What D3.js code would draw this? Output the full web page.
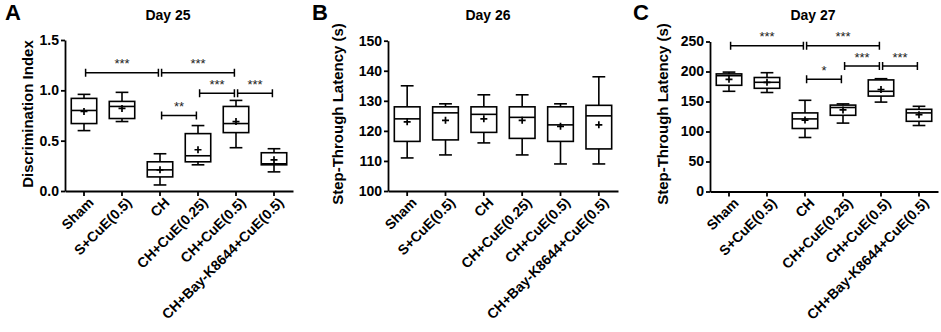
<!DOCTYPE html>
<html>
<head>
<meta charset="utf-8">
<script src="https://cdn.jsdelivr.net/npm/d3@7"></script>
<style>
  body { margin: 0; background: #fff; }
  svg { display: block; font-family: Arial, "Liberation Sans", sans-serif; }
</style>
</head>
<body>
<div id="chart"></div>
<script>
// ━━━━━━━━━━━━━━━━━━━━━━━━━━━━━━━━━━━━━━━━━━━━━━━━━━━━━━━━━━━━━━━━━━━━━━━━━━━━━━
// Data /////////////////////////////////////////////////////////////////////////
// ━━━━━━━━━━━━━━━━━━━━━━━━━━━━━━━━━━━━━━━━━━━━━━━━━━━━━━━━━━━━━━━━━━━━━━━━━━━━━━

const categories = ['Sham', 'S+CuE(0.5)', 'CH', 'CH+CuE(0.25)', 'CH+CuE(0.5)', 'CH+Bay-K8644+CuE(0.5)'];

// Day 25 - discrimination index
const d25_min    = [0.60, 0.69, 0.06, 0.26, 0.43, 0.19];
const d25_q1     = [0.67, 0.72, 0.14, 0.29, 0.58, 0.26];
const d25_median = [0.80, 0.84, 0.21, 0.35, 0.67, 0.27];
const d25_q3     = [0.92, 0.89, 0.29, 0.57, 0.84, 0.38];
const d25_max    = [0.96, 0.98, 0.37, 0.65, 0.90, 0.42];
const d25_mean   = [0.79, 0.82, 0.21, 0.41, 0.69, 0.31];
const d25_ticks  = [0.0, 0.5, 1.0, 1.5];
// [from, to, level, label]
const d25_sig = [[0, 2, 1.175, '***'], [2, 4, 1.175, '***'], [3, 4, 0.97, '***'], [4, 5, 0.97, '***'], [2, 3, 0.75, '**']];

// Day 26 - step-through latency
const d26_min    = [111, 112, 116, 112, 109, 109];
const d26_q1     = [116.5, 117, 119.5, 117.5, 116.5, 114];
const d26_median = [124, 126, 125.5, 124.5, 122, 125];
const d26_q3     = [128, 128, 128, 128, 128, 128.5];
const d26_max    = [135, 129, 132, 132, 129, 138];
const d26_mean   = [123, 123.5, 124, 123.5, 121.5, 122];
const d26_ticks  = [100, 110, 120, 130, 140, 150];
const d26_sig = [];

// Day 27 - step-through latency
const d27_min    = [167, 165, 90, 114, 149, 110];
const d27_q1     = [177, 172, 105, 127, 159, 117];
const d27_median = [193, 182, 121, 140, 167, 131];
const d27_q3     = [196, 190, 131, 144, 186, 137];
const d27_max    = [199, 198, 152, 146, 188, 142];
const d27_mean   = [187, 182, 119, 136, 170, 128];
const d27_ticks  = [0, 50, 100, 150, 200, 250];
const d27_sig = [[0, 2, 243, '***'], [2, 4, 243, '***'], [3, 4, 209, '***'], [4, 5, 209, '***'], [2, 3, 187, '*']];

// ━━━━━━━━━━━━━━━━━━━━━━━━━━━━━━━━━━━━━━━━━━━━━━━━━━━━━━━━━━━━━━━━━━━━━━━━━━━━━━
// SVG setup ////////////////////////////////////////////////////////////////////
// ━━━━━━━━━━━━━━━━━━━━━━━━━━━━━━━━━━━━━━━━━━━━━━━━━━━━━━━━━━━━━━━━━━━━━━━━━━━━━━

const width = 941, height = 332;

const svg = d3.select('#chart').append('svg')
  .attr('viewBox', [0, 0, width, height])
  .attr('width', width)
  .attr('height', height);

svg.append('rect').attr('width', width).attr('height', height).attr('fill', '#fff');

const zip = (a, b, c, d, e, f) => a.map((v, i) => ({ cat: categories[i], min: v, q1: b[i], median: c[i], q3: d[i], max: e[i], mean: f[i] }));

const panels = [
  { letter: 'A', title: 'Day 25', ylabel: 'Discrimination Index',
    rows: zip(d25_min, d25_q1, d25_median, d25_q3, d25_max, d25_mean), ticks: d25_ticks, fmt: d3.format('.1f'), sig: d25_sig,
    x0: 65, x1: 293, y0: 191, y1: 40, letterX: 5, titleX: 168, ylabelX: 28 },
  { letter: 'B', title: 'Day 26', ylabel: 'Step-Through Latency (s)',
    rows: zip(d26_min, d26_q1, d26_median, d26_q3, d26_max, d26_mean), ticks: d26_ticks, fmt: d3.format('d'), sig: d26_sig,
    x0: 388, x1: 618, y0: 191, y1: 40.7, letterX: 312, titleX: 488, ylabelX: 338 },
  { letter: 'C', title: 'Day 27', ylabel: 'Step-Through Latency (s)',
    rows: zip(d27_min, d27_q1, d27_median, d27_q3, d27_max, d27_mean), ticks: d27_ticks, fmt: d3.format('d'), sig: d27_sig,
    x0: 710, x1: 938, y0: 191.5, y1: 41.5, letterX: 633, titleX: 813, ylabelX: 663 }
];

panels.forEach(p => {
  const g = svg.append('g').attr('id', 'panel-' + p.letter);

  const x = d3.scaleBand().domain(categories).range([p.x0, p.x1]).padding(0);
  const y = d3.scaleLinear().domain([p.ticks[0], p.ticks[p.ticks.length - 1]]).range([p.y0, p.y1]);
  const bw = x.bandwidth() * 0.67;
  const cw = bw * 0.5;

  // Letter + title //////////////////////////////////////////////////////////
  g.append('text').attr('x', p.letterX).attr('y', 20)
    .attr('font-size', 22).attr('font-weight', 'bold').text(p.letter);
  g.append('text').attr('x', p.titleX).attr('y', 20).attr('text-anchor', 'middle')
    .attr('font-size', 14).attr('font-weight', 'bold').text(p.title);

  // Y label
  g.append('text')
    .attr('transform', `translate(${p.ylabelX},${114}) rotate(-90)`)
    .attr('text-anchor', 'middle').attr('dy', '0.35em')
    .attr('font-size', 15).attr('font-weight', 'bold').text(p.ylabel);

  // Axes /////////////////////////////////////////////////////////////////////
  const yAxis = g.append('g').attr('transform', `translate(${p.x0},0)`)
    .call(d3.axisLeft(y).tickValues(p.ticks).tickFormat(p.fmt).tickSize(4).tickSizeOuter(0).tickPadding(2));
  yAxis.selectAll('text').attr('font-size', 14).attr('font-weight', 'bold').attr('fill', '#000');

  const xAxis = g.append('g').attr('transform', `translate(0,${p.y0})`)
    .call(d3.axisBottom(x).tickSize(5).tickSizeOuter(0));
  xAxis.selectAll('text')
    .attr('font-size', 14).attr('font-weight', 'bold').attr('fill', '#000')
    .attr('text-anchor', 'end')
    .attr('transform', 'translate(7,9) rotate(-45)')
    .attr('dy', '0.35em').attr('y', 0).attr('x', 0);

  g.selectAll('.domain, .tick line').attr('stroke', '#000').attr('stroke-width', 1.8);

  // Boxes ////////////////////////////////////////////////////////////////////
  const boxes = g.append('g').attr('stroke', '#000').attr('stroke-width', 1.6).attr('fill', 'none')
    .selectAll('g').data(p.rows).join('g')
    .attr('transform', d => `translate(${x(d.cat) + x.bandwidth() / 2},0)`);

  boxes.append('line').attr('y1', d => y(d.min)).attr('y2', d => y(d.q1));
  boxes.append('line').attr('y1', d => y(d.q3)).attr('y2', d => y(d.max));
  boxes.append('line').attr('x1', -cw / 2).attr('x2', cw / 2).attr('y1', d => y(d.min)).attr('y2', d => y(d.min));
  boxes.append('line').attr('x1', -cw / 2).attr('x2', cw / 2).attr('y1', d => y(d.max)).attr('y2', d => y(d.max));
  boxes.append('rect').attr('x', -bw / 2).attr('width', bw)
    .attr('y', d => y(d.q3)).attr('height', d => y(d.q1) - y(d.q3)).attr('fill', '#fff');
  boxes.append('line').attr('x1', -bw / 2).attr('x2', bw / 2).attr('y1', d => y(d.median)).attr('y2', d => y(d.median));
  // mean marker
  boxes.append('path').attr('stroke-width', 1.7)
    .attr('d', d => `M-3.5,${y(d.mean)}h7M0,${y(d.mean) - 3.5}v7`);

  // Significance brackets ////////////////////////////////////////////////////
  const sig = g.append('g').selectAll('g').data(p.sig).join('g');
  const cx = i => x(categories[i]) + x.bandwidth() / 2;
  sig.append('path')
    .attr('fill', 'none').attr('stroke', '#000').attr('stroke-width', 1.5)
    .attr('d', d => {
      const a = cx(d[0]) + 1.6, b = cx(d[1]) - 1.6, ly = y(d[2]);
      return `M${a},${ly - 4}v8M${a},${ly}H${b}M${b},${ly - 4}v8`;
    });
  sig.append('text')
    .attr('x', d => (cx(d[0]) + cx(d[1])) / 2)
    .attr('y', d => y(d[2]) - 4.5)
    .attr('text-anchor', 'middle').attr('font-size', 13).attr('fill', '#222')
    .text(d => d[3]);
});
</script>
</body>
</html>
